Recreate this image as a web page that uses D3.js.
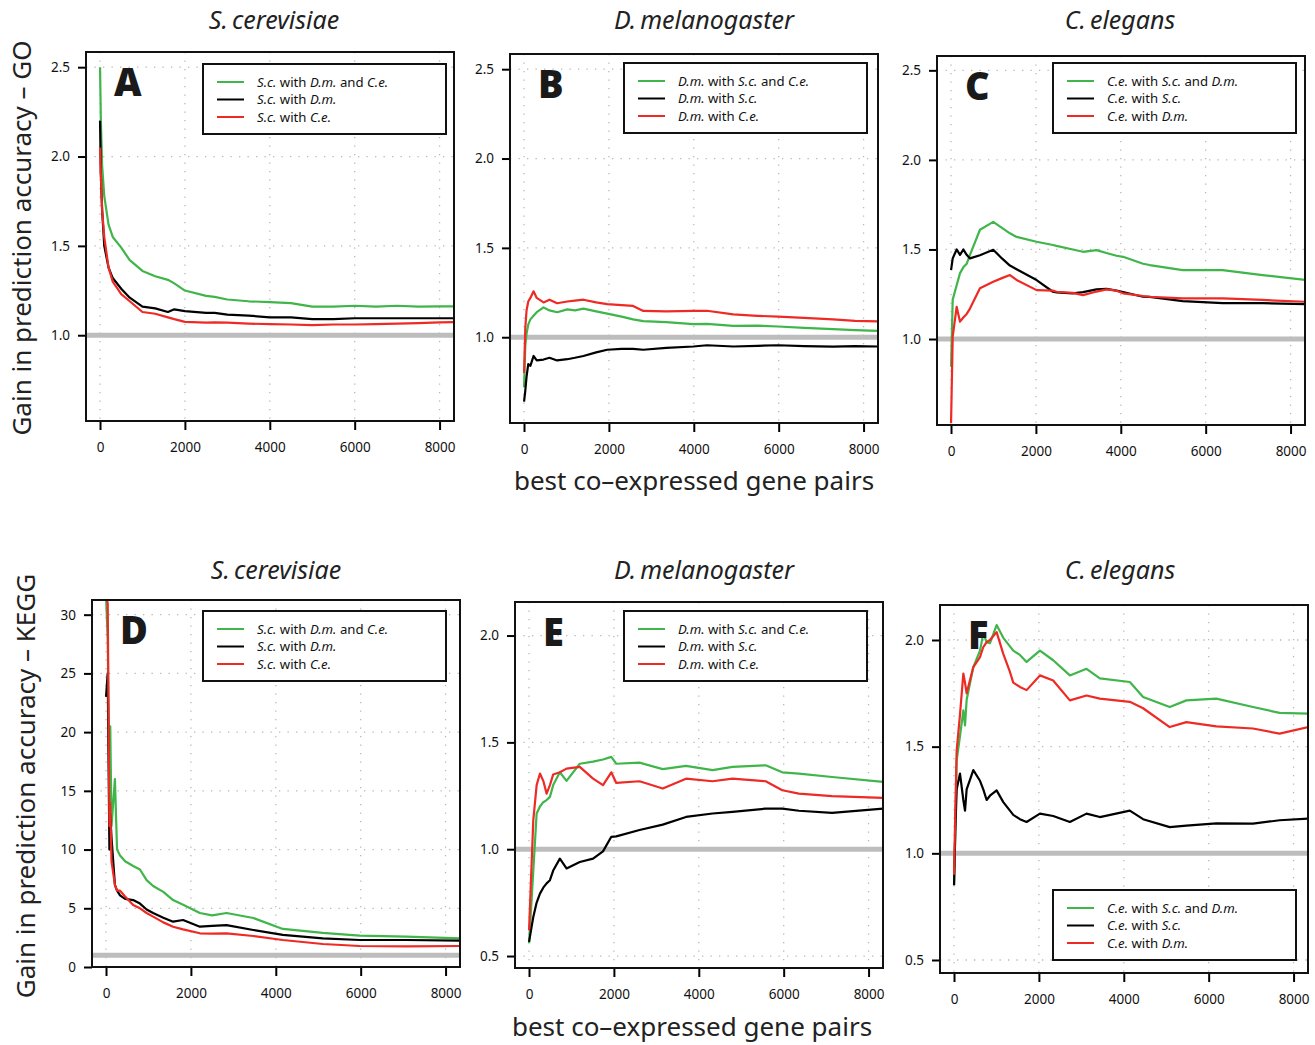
<!DOCTYPE html>
<html>
<head>
<meta charset="utf-8">
<script src="https://cdn.jsdelivr.net/npm/d3@7"></script>
<style>
body { margin: 0; background: #fff; }
text { font-family: "Noto Sans", "Open Sans", sans-serif; }
</style>
</head>
<body>
<div id="chart"></div>
<script>
/* global d3 */

// --- tick labels ---
let xTicks = [0, 2000, 4000, 6000, 8000];
let goTicks = [1.0, 1.5, 2.0, 2.5];
let keggScTicks = [0, 5, 10, 15, 20, 25, 30];
let keggTicks = [0.5, 1.0, 1.5, 2.0];

let species = ["S.\u2009cerevisiae", "D.\u2009melanogaster", "C.\u2009elegans"];
let legendSc = ["*S.c.* with *D.m.* and *C.e.*", "*S.c.* with *D.m.*", "*S.c.* with *C.e.*"];
let legendDm = ["*D.m.* with *S.c.* and *C.e.*", "*D.m.* with *S.c.*", "*D.m.* with *C.e.*"];
let legendCe = ["*C.e.* with *S.c.* and *D.m.*", "*C.e.* with *S.c.*", "*C.e.* with *D.m.*"];

// --- A: S.c., GO ---
let pairsA = [1, 20, 50, 100, 200, 300, 500, 700, 1000, 1300, 1600, 1750, 2000, 2500, 2700, 3000, 3500, 4000, 4500, 5000, 5500, 6000, 6500, 7000, 7500, 8000, 8350];
let goScBoth = [2.5, 2.2, 1.95, 1.78, 1.62, 1.55, 1.49, 1.42, 1.36, 1.33, 1.31, 1.29, 1.25, 1.22, 1.215, 1.2, 1.19, 1.185, 1.18, 1.16, 1.16, 1.165, 1.16, 1.165, 1.16, 1.162, 1.162];
let goScDm = [2.2, 1.9, 1.7, 1.5, 1.38, 1.32, 1.26, 1.21, 1.16, 1.15, 1.13, 1.145, 1.135, 1.125, 1.125, 1.115, 1.11, 1.1, 1.1, 1.09, 1.09, 1.095, 1.095, 1.095, 1.095, 1.095, 1.095];
let goScCe = [2.05, 1.9, 1.7, 1.55, 1.38, 1.3, 1.23, 1.19, 1.13, 1.12, 1.1, 1.09, 1.075, 1.07, 1.072, 1.07, 1.065, 1.062, 1.06, 1.056, 1.06, 1.06, 1.062, 1.065, 1.068, 1.072, 1.073];

// --- B: D.m., GO ---
let pairsB = [1, 30, 60, 100, 150, 225, 300, 460, 600, 780, 1020, 1200, 1400, 1700, 1960, 2300, 2570, 2810, 3350, 3990, 4310, 4930, 5500, 5990, 6600, 7280, 7800, 8350];
let goDmBoth = [0.72, 0.95, 1.02, 1.07, 1.1, 1.12, 1.14, 1.167, 1.15, 1.14, 1.156, 1.15, 1.16, 1.145, 1.132, 1.115, 1.1, 1.09, 1.085, 1.073, 1.075, 1.063, 1.065, 1.06, 1.052, 1.045, 1.04, 1.035];
let goDmSc = [0.64, 0.7, 0.78, 0.85, 0.84, 0.895, 0.87, 0.875, 0.885, 0.87, 0.877, 0.885, 0.895, 0.915, 0.93, 0.935, 0.935, 0.93, 0.94, 0.948, 0.955, 0.948, 0.952, 0.955, 0.95, 0.947, 0.95, 0.948];
let goDmCe = [0.8, 1.05, 1.15, 1.2, 1.22, 1.257, 1.22, 1.195, 1.21, 1.19, 1.2, 1.205, 1.21, 1.195, 1.185, 1.18, 1.175, 1.147, 1.145, 1.147, 1.148, 1.128, 1.12, 1.115, 1.108, 1.1, 1.092, 1.089];

// --- C: C.e., GO ---
let pairsC = [1, 40, 133, 212, 290, 369, 447, 682, 995, 1200, 1388, 1545, 2016, 2400, 2486, 2870, 3110, 3428, 3663, 3899, 4055, 4525, 4680, 5460, 6400, 7340, 8350];
let goCeBoth = [0.845, 1.22, 1.3, 1.368, 1.4, 1.42, 1.47, 1.61, 1.654, 1.62, 1.59, 1.57, 1.543, 1.525, 1.52, 1.5, 1.487, 1.496, 1.48, 1.465, 1.459, 1.42, 1.413, 1.385, 1.385, 1.357, 1.33];
let goCeSc = [1.385, 1.45, 1.5, 1.47, 1.5, 1.47, 1.45, 1.468, 1.498, 1.45, 1.41, 1.39, 1.329, 1.264, 1.26, 1.255, 1.262, 1.277, 1.28, 1.27, 1.262, 1.236, 1.235, 1.212, 1.2, 1.2, 1.195];
let goCeDm = [0.53, 1.013, 1.18, 1.097, 1.12, 1.14, 1.17, 1.283, 1.32, 1.34, 1.357, 1.33, 1.273, 1.27, 1.264, 1.258, 1.245, 1.265, 1.277, 1.27, 1.255, 1.24, 1.236, 1.227, 1.227, 1.218, 1.208];

// --- D: S.c., KEGG ---
let pairsD = [1, 40, 80, 100, 130, 210, 260, 330, 450, 640, 800, 957, 1110, 1350, 1580, 1816, 2212, 2500, 2840, 3470, 4165, 5106, 5977, 7075, 8350];
let keggScBoth = [31.5, 28, 14, 20.5, 12, 16, 10, 9.5, 9, 8.6, 8.3, 7.4, 6.9, 6.4, 5.7, 5.3, 4.6, 4.4, 4.6, 4.17, 3.24, 2.9, 2.67, 2.58, 2.44];
let keggScDm = [23, 25, 10, 13, 11, 7, 6.5, 6.1, 5.8, 5.7, 5.4, 4.9, 4.6, 4.2, 3.86, 4.0, 3.43, 3.5, 3.57, 3.15, 2.73, 2.44, 2.3, 2.3, 2.25];
let keggScCe = [31.5, 31, 12, 14, 9, 7, 6.5, 6.5, 6.0, 5.28, 5.0, 4.6, 4.29, 3.8, 3.43, 3.2, 2.87, 2.85, 2.87, 2.64, 2.3, 1.96, 1.79, 1.76, 1.79];

// --- E: D.m., KEGG ---
let pairsE = [1, 101, 180, 258, 336, 415, 493, 570, 727, 884, 1196, 1509, 1743, 1939, 2056, 2604, 3151, 3699, 4325, 4794, 5576, 5967, 6358, 7140, 8350];
let keggDmBoth = [0.56, 0.9, 1.167, 1.2, 1.22, 1.23, 1.245, 1.3, 1.36, 1.32, 1.4, 1.41, 1.42, 1.432, 1.4, 1.405, 1.375, 1.39, 1.37, 1.385, 1.393, 1.36, 1.354, 1.338, 1.315];
let keggDmSc = [0.566, 0.683, 0.75, 0.792, 0.82, 0.84, 0.855, 0.9, 0.956, 0.91, 0.94, 0.956, 0.99, 1.058, 1.06, 1.09, 1.115, 1.151, 1.167, 1.175, 1.19, 1.19, 1.18, 1.17, 1.19];
let keggDmCe = [0.62, 1.136, 1.3, 1.354, 1.32, 1.26, 1.3, 1.35, 1.36, 1.377, 1.385, 1.33, 1.3, 1.36, 1.31, 1.318, 1.284, 1.33, 1.318, 1.33, 1.318, 1.276, 1.26, 1.248, 1.24];

// --- F: C.e., KEGG ---
let pairsF = [1, 30, 63, 141, 220, 259, 298, 455, 612, 690, 769, 847, 1004, 1161, 1318, 1396, 1553, 1710, 2024, 2337, 2730, 3122, 3436, 4142, 4455, 5082, 5475, 6181, 7044, 7671, 8350];
let keggCeBoth = [0.85, 1.1, 1.436, 1.55, 1.67, 1.6, 1.72, 1.873, 1.95, 2.03, 1.99, 1.985, 2.07, 2.01, 1.97, 1.95, 1.93, 1.897, 1.95, 1.905, 1.834, 1.865, 1.82, 1.803, 1.733, 1.686, 1.717, 1.725, 1.686, 1.658, 1.655];
let keggCeSc = [0.85, 1.1, 1.3, 1.374, 1.25, 1.2, 1.3, 1.39, 1.34, 1.3, 1.25, 1.27, 1.295, 1.24, 1.2, 1.18, 1.16, 1.147, 1.186, 1.175, 1.147, 1.186, 1.17, 1.2, 1.16, 1.123, 1.13, 1.14, 1.139, 1.155, 1.163];
let keggCeDm = [0.9, 1.2, 1.483, 1.65, 1.843, 1.8, 1.75, 1.873, 1.92, 1.967, 1.99, 2.0, 2.037, 1.935, 1.85, 1.8, 1.78, 1.765, 1.834, 1.81, 1.717, 1.74, 1.725, 1.71, 1.68, 1.592, 1.615, 1.595, 1.585, 1.561, 1.592];

let GREEN = "#3fb54a";
let BLACK = "#000";
let RED = "#ee2a24";
let COLORS = [GREEN, BLACK, RED];
let X_DOMAIN = [-330, 8340];
let W = 368;
let TICK_FONT = 13.5;

let panels = [
	{ letter: "A", x: 86, y: 52, h: 369, yDomain: [0.52, 2.585], yTicks: goTicks, fmt: d3.format(".1f"),
		pairs: pairsA, series: [goScBoth, goScDm, goScCe], legend: legendSc, lx: 203, ly: 64, title: 0, tx: 274 },
	{ letter: "B", x: 510, y: 54, h: 369, yDomain: [0.52, 2.585], yTicks: goTicks, fmt: d3.format(".1f"),
		pairs: pairsB, series: [goDmBoth, goDmSc, goDmCe], legend: legendDm, lx: 624, ly: 63, title: 1, tx: 704 },
	{ letter: "C", x: 937, y: 56, h: 369, yDomain: [0.52, 2.58], yTicks: goTicks, fmt: d3.format(".1f"),
		pairs: pairsC, series: [goCeBoth, goCeSc, goCeDm], legend: legendCe, lx: 1053, ly: 63, title: 2, tx: 1120 },
	{ letter: "D", x: 92, y: 600, h: 367, yDomain: [0, 31.25], yTicks: keggScTicks, fmt: d3.format("d"),
		pairs: pairsD, series: [keggScBoth, keggScDm, keggScCe], legend: legendSc, lx: 203, ly: 611, title: 0, tx: 276 },
	{ letter: "E", x: 515, y: 602, h: 366, yDomain: [0.444, 2.157], yTicks: keggTicks, fmt: d3.format(".1f"),
		pairs: pairsE, series: [keggDmBoth, keggDmSc, keggDmCe], legend: legendDm, lx: 624, ly: 611, title: 1, tx: 704 },
	{ letter: "F", x: 940, y: 605, h: 368, yDomain: [0.439, 2.164], yTicks: keggTicks, fmt: d3.format(".1f"),
		pairs: pairsF, series: [keggCeBoth, keggCeSc, keggCeDm], legend: legendCe, lx: 1053, ly: 890, title: 2, tx: 1120 }
];

let svg = d3.select("#chart").append("svg").
	attr("width", 1315).
	attr("height", 1045).
	style("background", "#fff");

panels.forEach((p, i) => {
	let x = d3.scaleLinear().domain(X_DOMAIN).range([0, W]);
	let y = d3.scaleLinear().domain(p.yDomain).range([p.h, 0]);
	let g = svg.append("g").attr("transform", `translate(${p.x}, ${p.y})`);

	g.append("clipPath").attr("id", "clip" + i).
		append("rect").attr("width", W).attr("height", p.h);

	// dotted grid
	g.append("g").selectAll("line").data(xTicks).join("line").
		attr("x1", d => x(d)).attr("x2", d => x(d)).
		attr("y1", 0).attr("y2", p.h).
		attr("stroke", "#b8b8b8").attr("stroke-width", 1.3).attr("stroke-dasharray", "1.3,7.2");
	g.append("g").selectAll("line").data(p.yTicks).join("line").
		attr("x1", 0).attr("x2", W).
		attr("y1", d => y(d)).attr("y2", d => y(d)).
		attr("stroke", "#b8b8b8").attr("stroke-width", 1.3).attr("stroke-dasharray", "1.3,7.2");

	let plot = g.append("g").attr("clip-path", `url(#clip${i})`);

	// reference line at 1
	plot.append("line").
		attr("x1", 0).attr("x2", W).
		attr("y1", y(1)).attr("y2", y(1)).
		attr("stroke", "#bdbdbd").attr("stroke-width", 5);

	let line = d3.line().x((d, j) => x(p.pairs[j])).y(d => y(d));
	[0, 1, 2].forEach(k => {
		plot.append("path").
			attr("d", line(p.series[k])).
			attr("fill", "none").
			attr("stroke", COLORS[k]).
			attr("stroke-width", 2.2).
			attr("stroke-linejoin", "round");
	});

	// axes
	let xAxis = d3.axisBottom(x).tickValues(xTicks).tickFormat(d3.format("d")).
		tickSize(9).tickPadding(12).tickSizeOuter(0);
	let gx = g.append("g").attr("transform", `translate(0, ${p.h})`).call(xAxis);
	gx.select(".domain").remove();
	gx.selectAll("line").attr("stroke-width", 2);
	gx.selectAll("text").attr("font-size", TICK_FONT).attr("fill", "#111").
		style("font-family", "'Noto Sans', sans-serif");

	let yAxis = d3.axisLeft(y).tickValues(p.yTicks).tickFormat(p.fmt).tickSize(8).tickPadding(8).tickSizeOuter(0);
	let gy = g.append("g").call(yAxis);
	gy.select(".domain").remove();
	gy.selectAll("line").attr("stroke-width", 2);
	gy.selectAll("text").attr("font-size", TICK_FONT).attr("fill", "#111").
		style("font-family", "'Noto Sans', sans-serif");

	// frame
	g.append("rect").
		attr("width", W).attr("height", p.h).
		attr("fill", "none").attr("stroke", "#111").attr("stroke-width", 2);

	// panel letter
	g.append("text").
		attr("x", 28).attr("y", 44).
		attr("font-size", 38).attr("font-weight", 900).
		attr("fill", "#1a1a1a").
		text(p.letter);

	// legend
	let lg = svg.append("g").attr("transform", `translate(${p.lx}, ${p.ly})`);
	lg.append("rect").attr("width", 243).attr("height", 70).
		attr("fill", "#fff").attr("stroke", "#111").attr("stroke-width", 2);
	p.legend.forEach((lab, k) => {
		let cy = 18 + k * 17.5;
		lg.append("line").attr("x1", 14).attr("x2", 41).
			attr("y1", cy).attr("y2", cy).
			attr("stroke", COLORS[k]).attr("stroke-width", 2);
		let t = lg.append("text").attr("x", 54).attr("y", cy + 4.5).
			attr("font-size", 13.2).attr("fill", "#111");
		lab.split("*").forEach((part, m) => {
			if(part.length) {
				t.append("tspan").text(part).attr("font-style", m % 2 ? "italic" : "normal");
			}
		});
	});

	// species title
	svg.append("text").
		attr("x", p.tx).attr("y", p.y < 300 ? 29 : 579).
		attr("text-anchor", "middle").
		attr("font-size", 25).attr("font-style", "italic").
		attr("fill", "#222").
		text(species[p.title]);
});

// axis titles
let yTitles = [["Gain in prediction accuracy \u2013 GO", 31, 238], ["Gain in prediction accuracy \u2013 KEGG", 35, 786]];
yTitles.forEach(([label, tx, ty]) => {
	svg.append("text").
		attr("transform", `translate(${tx}, ${ty}) rotate(-90)`).
		attr("text-anchor", "middle").
		attr("font-size", 26).attr("fill", "#222").
		text(label);
});

let xTitles = [[694, 490], [692, 1036]];
xTitles.forEach(([tx, ty]) => {
	svg.append("text").
		attr("x", tx).attr("y", ty).
		attr("text-anchor", "middle").
		attr("font-size", 26).attr("fill", "#222").
		text("best co\u2013expressed gene pairs");
});
</script>
</body>
</html>
